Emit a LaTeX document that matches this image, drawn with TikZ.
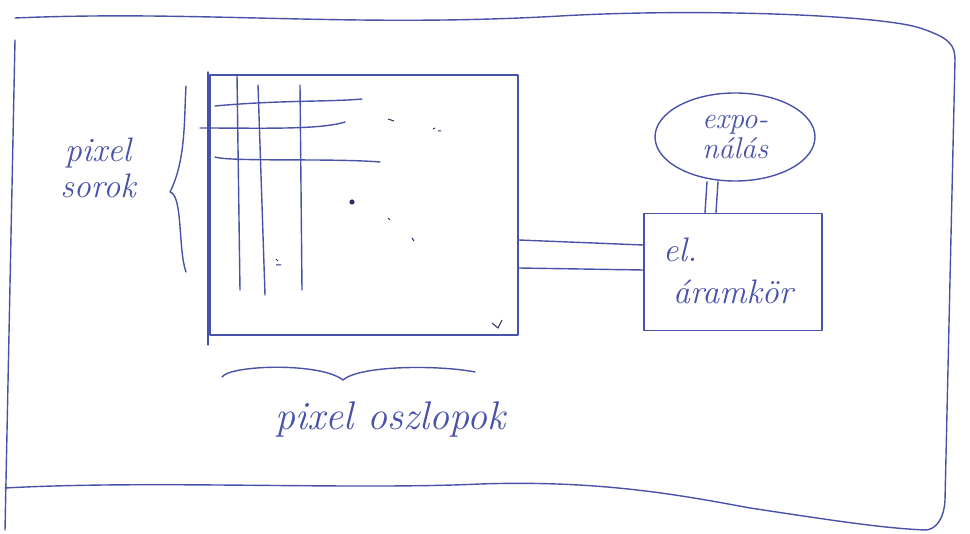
\documentclass[tikz,border=0pt]{standalone}
\usetikzlibrary{shapes.geometric}
\definecolor{pen}{RGB}{72,82,168}
\begin{document}
\begin{tikzpicture}[x=1pt,y=-1pt,
  pen/.style={draw=pen,line width=1.4pt,line cap=round,line join=round},
  hand/.style={text=pen,font=\itshape\fontsize{34}{36}\selectfont,align=center,inner sep=0pt}]
\useasboundingbox (0,0) rectangle (970,534);
% outer frame
\draw[pen] (15,18) .. controls (200,10) and (350,28) .. (560,16)
  .. controls (700,8) and (880,15) .. (920,28) .. controls (950,38) and (955,45) .. (955,60)
  -- (945,500) .. controls (944,520) and (935,530) .. (925,530);
\draw[pen] (15,40) -- (5,530);
\draw[pen] (5,488) .. controls (150,480) and (350,490) .. (480,484)
  .. controls (600,480) and (680,495) .. (750,508) .. controls (830,520) and (880,528) .. (925,530);
% sensor
\node[pen,rectangle,minimum width=308pt,minimum height=260pt] (sensor) at (364,205) {};
\draw[pen] (208,72) -- (208,345);
% grid lines
\draw[pen] (237,75) -- (240,290);
\draw[pen] (258,85) -- (265,295);
\draw[pen] (300,85) -- (302,290);
\draw[pen] (215,106) .. controls (280,100) and (330,102) .. (362,99);
\draw[pen] (200,128) .. controls (260,128) and (320,130) .. (345,122);
\draw[pen] (215,157) .. controls (230,162) and (330,158) .. (380,162);
% marks
\fill[pen!60!black] (352,202) circle (2.6pt);
\draw[pen!60!black,line width=1pt] (388,119) -- (394,121);
\draw[pen!60!black,line width=1pt] (433,129) -- (435,128) (438,131) -- (441,131);
\draw[pen!60!black,line width=1pt] (388,218) -- (390,220);
\draw[pen!60!black,line width=1pt] (412,238) -- (414,241);
\draw[pen!60!black,line width=1pt] (276,259) -- (278,261) (276,265) -- (281,265);
\draw[pen!60!black,line width=1pt] (492,323) -- (498,328) -- (502,320);
% left brace
\draw[pen] (186,86) .. controls (184,120) and (186,160) .. (170,192)
  .. controls (183,195) and (178,250) .. (186,272);
\node[hand] (sorok) at (98,168) {pixel\\sorok};
% bottom brace
\draw[pen] (222,377) .. controls (230,365) and (320,362) .. (343,380)
  .. controls (360,365) and (440,365) .. (475,372);
\node[hand,font=\itshape\fontsize{40}{40}\selectfont] (oszlopok) at (390,420) {pixel oszlopok};
% electronics box
\node[pen,rectangle,minimum width=178pt,minimum height=117pt] (box) at (733,272) {};
\node[hand,anchor=west] (el) at (663,250) {el.};
\node[hand] (aramkor) at (733,292) {áramkör};
% exposure ellipse
\node[pen,ellipse,minimum width=160pt,minimum height=88pt] (expo) at (735,137) {};
\node[hand,font=\itshape\fontsize{30}{30}\selectfont] (expotext) at (expo) {expo-\\nálás};
% connectors
\draw[pen] ([yshift=-35pt]sensor.east) -- ([yshift=27pt]box.west);
\draw[pen] ([yshift=-63pt]sensor.east) -- ([yshift=2pt]box.west);
\draw[pen] ([xshift=-28pt]expo.south) -- ([xshift=-28pt]box.north);
\draw[pen] ([xshift=-17pt]expo.south) -- ([xshift=-17pt]box.north);
\end{tikzpicture}
\end{document}
